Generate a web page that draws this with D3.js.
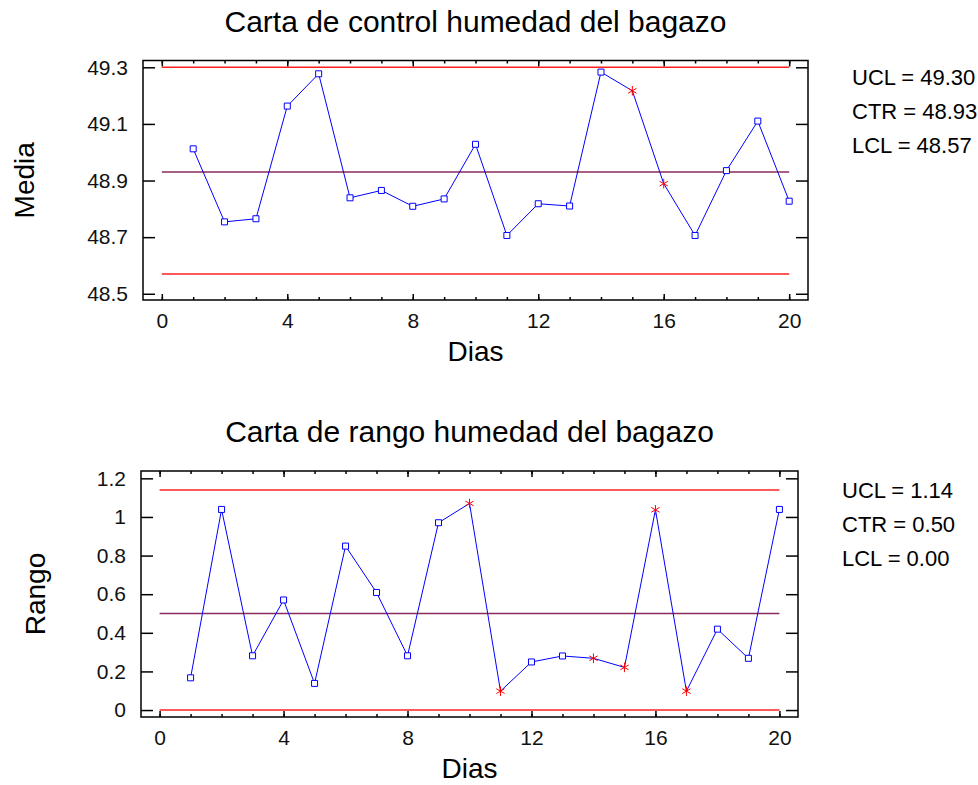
<!DOCTYPE html>
<html lang="es">
<head>
  <meta charset="UTF-8">
  <style>
    body {
      margin: 0;
      background: #fff;
    }

    svg {
      display: block;
      font-family: "Liberation Sans", Arial, sans-serif;
    }

    .title, .axis-label {
      text-anchor: middle;
      fill: #000;
    }

    .tick text {
      fill: #111;
    }

    .tick line {
      stroke: #000;
    }
  </style>
  <script src="https://d3js.org/d3.v7.min.js"></script>
</head>
<body>

<svg id="chart" width="978" height="785"></svg>

<script>
  // days on the x axis
  const dias = [1, 2, 3, 4, 5, 6, 7, 8, 9, 10, 11, 12, 13, 14, 15, 16, 17, 18, 19, 20];
  const diasTicks = [0, 4, 8, 12, 16, 20];
  const limitNames = ["UCL", "CTR", "LCL"];

  // chart 1: media
  const mediaValues = [49.012, 48.754, 48.765, 49.163, 49.277, 48.839, 48.865, 48.809, 48.835, 49.028,
                       48.706, 48.818, 48.810, 49.283, 49.217, 48.889, 48.706, 48.935, 49.110, 48.827];
  const mediaFlagged = [15, 16];
  const mediaLimits = [49.30, 48.93, 48.57];
  const mediaTicks = [48.5, 48.7, 48.9, 49.1, 49.3];

  // chart 2: rango
  const rangoValues = [0.167, 1.039, 0.281, 0.570, 0.138, 0.849, 0.609, 0.281, 0.970, 1.070,
                       0.098, 0.249, 0.280, 0.268, 0.221, 1.037, 0.098, 0.419, 0.268, 1.039];
  const rangoFlagged = [10, 11, 14, 15, 16, 17];
  const rangoLimits = [1.14, 0.50, 0.00];
  const rangoTicks = [0, 0.2, 0.4, 0.6, 0.8, 1, 1.2];

  const svg = d3.select("#chart");
  const limitColors = ["#ff2020", "#8a2a5e", "#ff2020"];

  function controlChart(cfg) {
    const g = svg.append("g");
    const x = d3.scaleLinear().domain([-0.6, 20.6]).range([cfg.left, cfg.right]);
    const y = d3.scaleLinear().domain(cfg.yDomain).range([cfg.bottom, cfg.top]);

    // minor x ticks (every day), inward, top and bottom
    g.append("g")
      .attr("transform", `translate(0,${cfg.bottom})`)
      .call(d3.axisBottom(x).tickValues(d3.range(0, 21)).tickSize(-3).tickFormat(""))
      .call(a => a.select(".domain").remove());
    g.append("g")
      .attr("transform", `translate(0,${cfg.top})`)
      .call(d3.axisTop(x).tickValues(d3.range(0, 21)).tickSize(-3).tickFormat(""))
      .call(a => a.select(".domain").remove());

    // major x ticks with labels
    g.append("g")
      .attr("transform", `translate(0,${cfg.bottom})`)
      .call(d3.axisBottom(x).tickValues(diasTicks).tickSize(-6).tickPadding(13))
      .call(a => a.select(".domain").remove())
      .selectAll("text").style("font-size", "21px");
    g.append("g")
      .attr("transform", `translate(0,${cfg.top})`)
      .call(d3.axisTop(x).tickValues(diasTicks).tickSize(-6).tickFormat(""))
      .call(a => a.select(".domain").remove());

    // y ticks, inward on both sides
    g.append("g")
      .attr("transform", `translate(${cfg.left},0)`)
      .call(d3.axisLeft(y).tickValues(cfg.yTicks).tickSize(-12).tickPadding(15).tickFormat(cfg.fmt))
      .call(a => a.select(".domain").remove())
      .selectAll("text").style("font-size", "21px");
    g.append("g")
      .attr("transform", `translate(${cfg.right},0)`)
      .call(d3.axisRight(y).tickValues(cfg.yTicks).tickSize(-12).tickFormat(""))
      .call(a => a.select(".domain").remove());

    g.selectAll("g.tick line").attr("stroke-width", 1.5);

    // control limits
    g.selectAll("line.limit")
      .data(cfg.limits)
      .join("line")
      .attr("class", "limit")
      .attr("x1", x(0))
      .attr("x2", x(20))
      .attr("y1", d => y(d))
      .attr("y2", d => y(d))
      .attr("stroke", (d, i) => limitColors[i])
      .attr("stroke-width", 1.5);

    // frame
    g.append("rect")
      .attr("x", cfg.left)
      .attr("y", cfg.top)
      .attr("width", cfg.right - cfg.left)
      .attr("height", cfg.bottom - cfg.top)
      .attr("fill", "none")
      .attr("stroke", "#000")
      .attr("stroke-width", 1.5);

    const pts = dias.map((d, i) => ({ day: d, value: cfg.values[i], flag: cfg.flagged.includes(d) }));

    g.append("path")
      .datum(pts)
      .attr("fill", "none")
      .attr("stroke", "#0000ff")
      .attr("stroke-width", 1)
      .attr("d", d3.line().x(d => x(d.day)).y(d => y(d.value)));

    g.selectAll("path.pt")
      .data(pts)
      .join("path")
      .attr("class", "pt")
      .attr("transform", d => `translate(${x(d.day)},${y(d.value)})`)
      .attr("d", d => d.flag ? d3.symbol(d3.symbolAsterisk, 64)() : d3.symbol(d3.symbolSquare, 36)())
      .attr("fill", d => d.flag ? "none" : "#fff")
      .attr("stroke", d => d.flag ? "#ff0000" : "#0000ff")
      .attr("stroke-width", 1);

    // titles and labels
    g.append("text")
      .attr("class", "title")
      .attr("x", (cfg.left + cfg.right) / 2)
      .attr("y", cfg.top - 29)
      .style("font-size", "30px")
      .text(cfg.title);

    g.append("text")
      .attr("class", "axis-label")
      .attr("x", (cfg.left + cfg.right) / 2)
      .attr("y", cfg.bottom + 61)
      .style("font-size", "28px")
      .text("Dias");

    g.append("text")
      .attr("class", "axis-label")
      .attr("transform", `translate(${cfg.yLabelX},${(cfg.top + cfg.bottom) / 2}) rotate(-90)`)
      .style("font-size", "28px")
      .text(cfg.yLabel);

    // limit legend
    g.selectAll("text.legend")
      .data(cfg.limits)
      .join("text")
      .attr("class", "legend")
      .attr("x", cfg.legendX)
      .attr("y", (d, i) => cfg.legendY + i * 34)
      .style("font-size", "22px")
      .attr("fill", "#000")
      .text((d, i) => `${limitNames[i]} = ${d.toFixed(2)}`);
  }

  controlChart({
    title: "Carta de control humedad del bagazo",
    yLabel: "Media",
    yLabelX: 34,
    left: 143, right: 808, top: 60.5, bottom: 300,
    yDomain: [48.478, 49.324],
    yTicks: mediaTicks,
    fmt: d3.format(".1f"),
    values: mediaValues,
    flagged: mediaFlagged,
    limits: mediaLimits,
    legendX: 852, legendY: 85
  });

  controlChart({
    title: "Carta de rango humedad del bagazo",
    yLabel: "Rango",
    yLabelX: 45,
    left: 141, right: 798, top: 471, bottom: 717,
    yDomain: [-0.036, 1.238],
    yTicks: rangoTicks,
    fmt: d3.format("~g"),
    values: rangoValues,
    flagged: rangoFlagged,
    limits: rangoLimits,
    legendX: 842, legendY: 498
  });
</script>

</body>
</html>
